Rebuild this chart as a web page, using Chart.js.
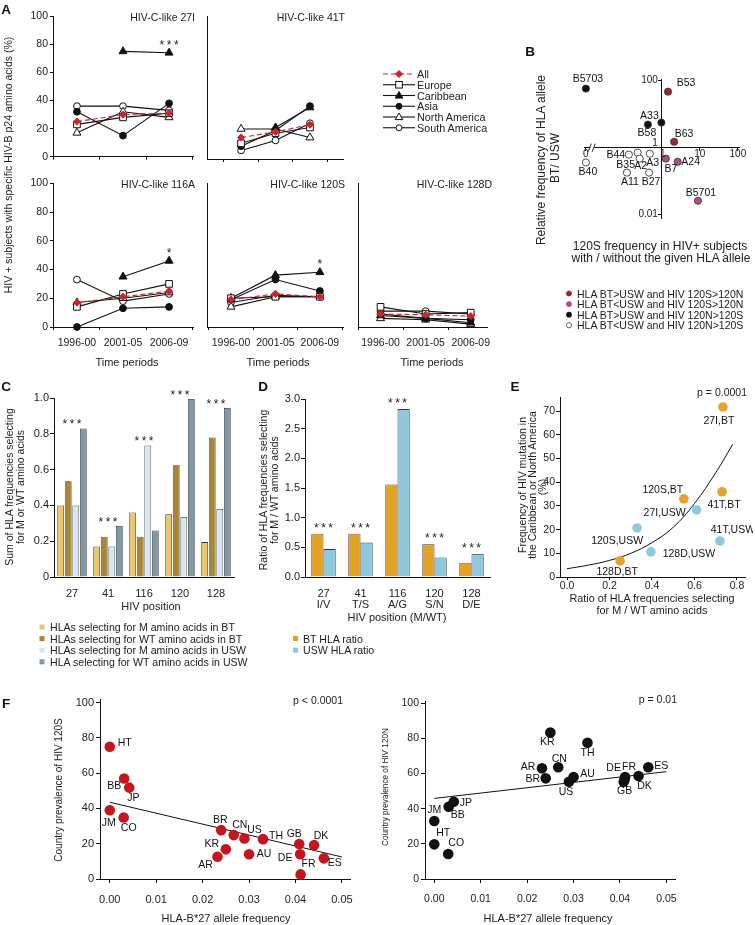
<!DOCTYPE html>
<html>
<head>
<meta charset="utf-8">
<title>HLA-B*27 and HIV p24 adaptation</title>
<script src="https://cdn.jsdelivr.net/npm/chart.js@4.4.1/dist/chart.umd.min.js"></script>
<style>
  html, body { margin: 0; padding: 0; background: #fff; }
  #fig { position: relative; width: 755px; height: 925px; overflow: hidden; }
  .box { position: absolute; z-index: 1; }
  .box canvas { display: block; }
  #labels { position: absolute; left: 0; top: 0; z-index: 2; pointer-events: none; }
</style>
</head>
<body>
<div id="fig">
  <svg id="labels" width="755" height="925" xmlns="http://www.w3.org/2000/svg"></svg>
</div>
<script>
const FONT = "'Liberation Sans', Arial, Helvetica, sans-serif";

/* ---------- A: HIV-C-like amino acids by region and period ---------- */
const timeLabels = ['1996-00', '2001-05', '2006-09'];
const regions = ['All', 'Europe', 'Caribbean', 'Asia', 'North America', 'South America'];
// one row per region, same order as `regions`
const hiv27I = [[25, 30, 31], [23, 28, 31], [null, 75, 74], [32, 15, 38], [17, 32, 28], [36, 36, 33]];
const hiv41T = [[15, 19, 24], [11, 18, 22], [null, 22, 36], [9, 20, 37], [21, 21, 15], [6, 13, 25]];
const hiv116A = [[17, 21, 25], [14, 23, 30], [null, 35, 46], [0, 13, 14], [17, 20, 24], [33, 18, 23]];
const hiv120S = [[19, 23, 21], [20, 21, 21], [20, 36, 38], [19, 33, 25], [14, 21, 21], [17, 22, 21]];
const hiv128D = [[9, 8.5, 7.5], [14, 9, 10], [8, 6, 3], [9, 6, 5], [6, 5, 2], [11, 11, 9]];
const stars27I = ['', '', '***'];
const stars116A = ['', '', '*'];
const stars120S = ['', '', '*'];

/* ---------- B: relative HLA frequency vs 120S frequency ---------- */
const bAlleles = ['B5703', 'B53', 'A33', 'B58', 'B63', 'B44', 'B35', 'A2', 'A3', 'B7', 'A24', 'B40', 'A11', 'B27', 'B5701'];
const b120SRatio = [0, 1.45, 0.97, 0.43, 2.1, 0.135, 0.23, 0.26, 0.48, 1.27, 2.6, 0, 0.12, 0.46, 8.9];
const bBtUswRatio = [58, 47, 5.6, 4.9, 1.5, 0.62, 0.71, 0.47, 0.66, 0.47, 0.38, 0.36, 0.18, 0.18, 0.026];
const bGroup = [2, 0, 2, 2, 0, 3, 3, 3, 3, 1, 1, 3, 3, 3, 1];
const bGroupNames = ['HLA BT>USW and HIV 120S>120N', 'HLA BT<USW and HIV 120S>120N',
  'HLA BT>USW and HIV 120N>120S', 'HLA BT<USW and HIV 120N>120S'];
const bXTickValues = [0, 1, 10, 100];
const bYTickValues = [100, 1, 0.01];

/* ---------- C: summed HLA frequencies ---------- */
const positions = ['27', '41', '116', '120', '128'];
const mBT = [0.40, 0.17, 0.36, 0.35, 0.195];
const wtBT = [0.535, 0.225, 0.225, 0.625, 0.78];
const mUSW = [0.40, 0.17, 0.735, 0.335, 0.38];
const wtUSW = [0.83, 0.285, 0.26, 0.995, 0.945];
const cStars = ['***', '***', '***', '***', '***'];
const cLegend = ['HLAs selecting for M amino acids in BT', 'HLAs selecting for WT amino acids in BT',
  'HLAs selecting for M amino acids in USW', 'HLA selecting for WT amino acids in USW'];

/* ---------- D: M / WT ratios ---------- */
const dLabels = [['27', 'I/V'], ['41', 'T/S'], ['116', 'A/G'], ['120', 'S/N'], ['128', 'D/E']];
const btRatio = [0.73, 0.73, 1.56, 0.55, 0.24];
const uswRatio = [0.47, 0.58, 2.83, 0.33, 0.39];
const dStars = ['***', '***', '***', '***', '***'];
const dLegend = ['BT HLA ratio', 'USW HLA ratio'];

/* ---------- E: mutation frequency vs ratio ---------- */
const eSites = ['27I', '41T', '120S', '128D'];
const eBtRatio = [0.734, 0.73, 0.55, 0.25];
const eBtFreq = [71.8, 36, 33, 6.8];
const eUswRatio = [0.61, 0.72, 0.33, 0.395];
const eUswFreq = [28.3, 15.2, 20.7, 10.6];
const eFitX = [0, 0.1, 0.2, 0.3, 0.4, 0.5, 0.6, 0.7, 0.78];
const eFitY = [3.5, 5, 7, 10, 14.5, 21, 31, 44, 56];

/* ---------- F: country prevalence vs HLA-B*27 ---------- */
const countries = ['HT', 'BB', 'JP', 'JM', 'CO', 'BR', 'CN', 'US', 'TH', 'GB', 'DK', 'KR', 'AR', 'AU', 'DE', 'ES', 'FR'];
const b27Freq = [0, 0.0031, 0.0042, 0, 0.003, 0.024, 0.0267, 0.029, 0.033, 0.0408, 0.044, 0.025, 0.0232, 0.030, 0.041, 0.0461, 0.0411];
const prev120S = [75, 57, 51.8, 39, 34.9, 27.7, 24.9, 23, 22.6, 19.8, 19.2, 16.8, 12.6, 14, 14, 11.7, 2.6];
const prev120N = [19.7, 41.1, 43.9, 33, 14.2, 57.2, 63.5, 55.3, 77.4, 55.3, 58.5, 83.3, 62.9, 58, 56.5, 63.5, 58];
const fitFX = [0, 0.05];
const fit120S = [43.5, 12.5];
const fit120N = [45.8, 61];

/* ---------- styles ---------- */
const regionStyle = {
  'All': { color: '#c8262c', dash: [5, 3], point: 'rectRot', fill: '#c8262c', r: 3.6 },
  'Europe': { color: '#111', point: 'rect', fill: '#fff', r: 4.7 },
  'Caribbean': { color: '#111', point: 'triangle', fill: '#111', r: 4.6 },
  'Asia': { color: '#111', point: 'circle', fill: '#111', r: 3.4 },
  'North America': { color: '#111', point: 'triangle', fill: '#fff', r: 4.6 },
  'South America': { color: '#111', point: 'circle', fill: '#fff', r: 3.4 },
};
const bColors = ['#9c2a2a', '#b24d86', '#111', '#fff'];
const cColors = ['#ecc66f', '#a88537', '#d6e7f1', '#7f99a6'];
const dColors = ['#e3a224', '#8fc7de'];
const eColors = ['#e6a332', '#90c8df'];

const bLabelPos = {
  B5703: [2, -9], B53: [18, -9], A33: [-12, -6], B58: [-1, 9], B63: [10, -8],
  B44: [-13, 0], B35: [-12, 12], A2: [1, 7], A3: [3, 9], B7: [5, 10], A24: [13, 0],
  B40: [2, 10], A11: [3, 10], B27: [2, 10], B5701: [3, -8],
};
const eLabelPos = {
  '27I,BT': [-4, 14], '41T,BT': [2, 13], '120S,BT': [-21, -9], '128D,BT': [-3, 11],
  '27I,USW': [-32, 3], '41T,USW': [13, -11], '120S,USW': [-20, 13], '128D,USW': [38, 2],
};
const f120SLabelPos = {
  HT: [15, -4], BB: [-10, 8], JP: [4, 10], JM: [-1, 13], CO: [5, 11], BR: [-1, -10], CN: [6, -10],
  US: [10, -8], TH: [13, -3], GB: [-5, -10], DK: [7, -9], KR: [-14, -5], AR: [-12, 8], AU: [15, 0],
  DE: [-15, 4], ES: [11, 5], FR: [8, -10],
};
const f120NLabelPos = {
  KR: [-3, 10], TH: [0, 10], AR: [-14, -1], CN: [1, -8], ES: [13, -1], BR: [-13, 1], AU: [14, -3],
  US: [-3, 10], DE: [-11, -11], FR: [4, -10], GB: [1, 9], DK: [6, 10], JP: [12, 1], BB: [9, 8],
  JM: [0, -11], HT: [9, -11], CO: [8, -11],
};

/* ---------- helpers ---------- */
const fig = document.getElementById('fig');
const svg = document.getElementById('labels');
const NS = 'http://www.w3.org/2000/svg';

function el(tag, attrs) {
  const e = document.createElementNS(NS, tag);
  for (const k in attrs) e.setAttribute(k, attrs[k]);
  svg.appendChild(e);
  return e;
}

function txt(x, y, s, o = {}) {
  const t = el('text', {
    x, y, 'font-size': o.size || 11, 'font-family': FONT, fill: o.color || '#222',
    'text-anchor': o.anchor || 'middle', 'dominant-baseline': 'central',
  });
  if (o.bold) t.setAttribute('font-weight', 'bold');
  if (o.rot) t.setAttribute('transform', 'rotate(' + o.rot + ' ' + x + ' ' + y + ')');
  t.textContent = s;
}

function makeCanvas(area, m) {
  const w = area[2] - area[0] + m.l + m.r;
  const h = area[3] - area[1] + m.t + m.b;
  const div = document.createElement('div');
  div.className = 'box';
  div.style.left = (area[0] - m.l) + 'px';
  div.style.top = (area[1] - m.t) + 'px';
  div.style.width = w + 'px';
  div.style.height = h + 'px';
  const c = document.createElement('canvas');
  c.width = w;
  c.height = h;
  c.style.width = w + 'px';
  c.style.height = h + 'px';
  div.appendChild(c);
  fig.insertBefore(div, svg);
  return c;
}

function base(m, full) {
  return {
    responsive: false,
    animation: false,
    layout: { padding: full ? { left: m.l, top: m.t, right: m.r, bottom: m.b } : { left: 0, top: m.t, right: m.r, bottom: 0 } },
    plugins: { legend: { display: false }, tooltip: { enabled: false } },
  };
}

// Igor-like axis: outside ticks, no grid
function axis(o) {
  const a = {
    type: o.type || 'linear',
    border: { display: true, color: '#111', width: 1 },
    grid: {
      display: o.grid !== false, drawOnChartArea: false, drawTicks: (o.tl || 0) > 0,
      tickLength: o.tl || 0, color: '#111', offset: !!o.offset,
    },
    ticks: {
      display: o.labels !== false, padding: o.pad || 0, color: '#222', autoSkip: false,
      maxRotation: 0, minRotation: 0, includeBounds: false,
      font: { size: o.size || 11, lineHeight: o.lh || 1.2 },
    },
  };
  if (o.type === 'category') a.offset = true;
  if (o.min !== undefined) a.min = o.min;
  if (o.max !== undefined) a.max = o.max;
  if (o.step !== undefined) a.ticks.stepSize = o.step;
  if (o.cb) a.ticks.callback = o.cb;
  if (o.fit) a.afterFit = o.fit;
  if (o.position) a.position = o.position;
  if (o.tickValues) a.afterBuildTicks = (s) => { s.ticks = o.tickValues.map(v => ({ value: v })); };
  return a;
}

function drawStars(ctx, x, yTop, text, gap) {
  const n = text.length, sp = 7.2;
  ctx.save();
  ctx.font = '12px ' + FONT;
  ctx.fillStyle = '#222';
  ctx.textAlign = 'center';
  ctx.textBaseline = 'alphabetic';
  for (let k = 0; k < n; k++) ctx.fillText('*', x + (k - (n - 1) / 2) * sp, yTop - gap);
  ctx.restore();
}

function starPlugin(id, stars, gap) {
  return {
    id,
    afterDatasetsDraw(chart) {
      const xs = chart.scales.x;
      stars.forEach((s, i) => {
        if (!s) return;
        let top = Infinity;
        chart.data.datasets.forEach((d, di) => {
          const e = chart.getDatasetMeta(di).data[i];
          if (e && !e.skip && isFinite(e.y)) top = Math.min(top, e.y);
        });
        drawStars(chart.ctx, xs.getPixelForValue(i), top, s, gap);
      });
    },
  };
}

function pointLabels(id, dsIndex, names, pos, size) {
  return {
    id,
    afterDatasetsDraw(chart) {
      const ctx = chart.ctx;
      const meta = chart.getDatasetMeta(dsIndex);
      ctx.save();
      ctx.font = size + 'px ' + FONT;
      ctx.fillStyle = '#111';
      ctx.textAlign = 'center';
      ctx.textBaseline = 'middle';
      meta.data.forEach((e, i) => {
        const o = pos[names[i]] || [0, -10];
        ctx.fillText(names[i], e.x + o[0], e.y + o[1]);
      });
      ctx.restore();
    },
  };
}

/* ---------- Panel A ---------- */
const aPanels = [
  { data: hiv27I, title: 'HIV-C-like 27I', area: [53, 16, 193, 159], xr: [-0.52, 2.52], yLab: true, xLab: false, stars: stars27I },
  { data: hiv41T, title: 'HIV-C-like 41T', area: [207, 16, 343, 159], xr: [-0.99, 2.96], yLab: false, xLab: false },
  { data: hiv116A, title: 'HIV-C-like 116A', area: [53, 183, 193, 327], xr: [-0.52, 2.52], yLab: true, xLab: true, stars: stars116A },
  { data: hiv120S, title: 'HIV-C-like 120S', area: [207, 183, 343, 327], xr: [-0.54, 2.52], yLab: false, xLab: true, stars: stars120S },
  { data: hiv128D, title: 'HIV-C-like 128D', area: [358, 183, 490, 327], xr: [-0.5, 2.37], yLab: false, xLab: true },
];

aPanels.forEach((p, n) => {
  const m = { l: 30, t: 8, r: 8, b: p.xLab ? 26 : 6 };
  const canvas = makeCanvas(p.area, m);
  const datasets = regions.map((name, k) => {
    const st = regionStyle[name];
    return {
      label: name,
      data: p.data[k].map((v, i) => ({ x: i, y: v })),
      borderColor: st.color,
      borderWidth: 1.1,
      borderDash: st.dash || [],
      pointStyle: st.point,
      pointRadius: st.r,
      pointBackgroundColor: st.fill,
      pointBorderColor: st.color,
      pointBorderWidth: 1,
      spanGaps: false,
      clip: false,
    };
  });
  new Chart(canvas, {
    type: 'line',
    data: { datasets },
    options: Object.assign(base(m), {
      scales: {
        x: axis({ min: p.xr[0], max: p.xr[1], tickValues: [0, 1, 2], offset: true, tl: 3, labels: p.xLab,
          pad: 7, size: 10.5, cb: v => timeLabels[v], fit: s => { s.height = m.b; } }),
        y: axis({ min: 0, max: 100, step: 20, tl: p.yLab ? 3 : 0, labels: p.yLab, grid: p.yLab,
          pad: 2, size: 10.5, fit: s => { s.width = m.l; } }),
      },
    }),
    plugins: p.stars ? [starPlugin('starsA' + n, p.stars, 4)] : [],
  });
  txt(p.area[2] + 2, p.area[1] + 0.5, p.title, { anchor: 'end', size: 10.5 });
});

txt(8, 165, 'HIV + subjects with specific HIV-B p24 amino acids (%)', { rot: -90, size: 10.5 });
txt(127, 362, 'Time periods');
txt(278, 362, 'Time periods');
txt(432, 362, 'Time periods');

// legend A
regions.forEach((name, i) => {
  const y = 74 + i * 10.75;
  const st = regionStyle[name];
  const ln = el('line', { x1: 383, y1: y, x2: 415, y2: y, stroke: st.color, 'stroke-width': 1.1 });
  if (st.dash) ln.setAttribute('stroke-dasharray', st.dash.join(' '));
  const cx = 399;
  const attrs = { fill: st.fill, stroke: st.color, 'stroke-width': 1 };
  if (st.point === 'circle') {
    el('circle', Object.assign({ cx, cy: y, r: st.r - 0.4 }, attrs));
  } else if (st.point === 'rect') {
    el('rect', Object.assign({ x: cx - 3.3, y: y - 3.3, width: 6.6, height: 6.6 }, attrs));
  } else if (st.point === 'rectRot') {
    el('polygon', Object.assign({ points: [cx, y - 3.6, cx + 3.6, y, cx, y + 3.6, cx - 3.6, y].join(' ') }, attrs));
  } else {
    el('polygon', Object.assign({ points: [cx, y - 4, cx + 3.8, y + 2.6, cx - 3.8, y + 2.6].join(' ') }, attrs));
  }
  txt(417, y, name, { anchor: 'start', size: 10.8 });
});

/* ---------- Panel B ---------- */
const lg = v => (v === 0 ? -2 : Math.log10(v));
(function () {
  const area = [584, 79, 739, 218];
  const m = { l: 24, t: 12, r: 16, b: 6 };
  const canvas = makeCanvas(area, m);
  new Chart(canvas, {
    type: 'scatter',
    data: {
      datasets: [{
        data: bAlleles.map((a, i) => ({ x: lg(b120SRatio[i]), y: lg(bBtUswRatio[i]) })),
        pointRadius: 3.6,
        pointBackgroundColor: bGroup.map(g => bColors[g]),
        pointBorderColor: bGroup.map(g => (g === 3 ? '#222' : '#333')),
        pointBorderWidth: 0.8,
        clip: false,
      }],
    },
    options: Object.assign(base(m, true), {
      scales: {
        x: axis({ min: -2.05, max: 2.03, position: { y: 0 }, tickValues: bXTickValues.map(lg), tl: 3, labels: false }),
        y: axis({ min: -2.1, max: 2.05, position: { x: 0 }, tickValues: bYTickValues.map(lg), tl: 3, labels: false }),
      },
    }),
    plugins: [
      pointLabels('bLabels', 0, bAlleles, bLabelPos, 10.5),
      {
        id: 'bAxes',
        afterDraw(chart) {
          const xs = chart.scales.x, ys = chart.scales.y, ctx = chart.ctx;
          const x0 = xs.getPixelForValue(0), y0 = ys.getPixelForValue(0);
          ctx.save();
          ctx.font = '10px ' + FONT;
          ctx.fillStyle = '#222';
          ctx.textAlign = 'center';
          ctx.textBaseline = 'middle';
          bXTickValues.forEach(v => ctx.fillText(String(v), xs.getPixelForValue(lg(v)) + (v === 1 ? 1 : 0), y0 + 7));
          ctx.textAlign = 'right';
          bYTickValues.forEach(v => {
            const py = ys.getPixelForValue(lg(v));
            ctx.fillText(String(v), x0 - 4, v === 1 ? py - 4 : py);
          });
          // axis break
          const bx = xs.getPixelForValue(-1.86);
          ctx.fillStyle = '#fff';
          ctx.fillRect(bx - 1, y0 - 1.5, 4, 3);
          ctx.strokeStyle = '#111';
          ctx.lineWidth = 0.9;
          ctx.beginPath();
          ctx.moveTo(bx - 3, y0 + 4); ctx.lineTo(bx, y0 - 4);
          ctx.moveTo(bx + 1, y0 + 4); ctx.lineTo(bx + 4, y0 - 4);
          ctx.stroke();
          ctx.restore();
        },
      },
    ],
  });
})();

txt(541, 160, 'Relative frequency of HLA allele', { rot: -90, size: 12 });
txt(555, 158, 'BT/ USW', { rot: -90, size: 12 });
txt(660, 246, '120S frequency in HIV+ subjects', { size: 12 });
txt(661, 258, 'with / without the given HLA allele', { size: 12 });
bGroupNames.forEach((s, i) => {
  const y = 293.5 + i * 10.6;
  el('circle', { cx: 569, cy: y, r: 2.6, fill: bColors[i], stroke: i === 3 ? '#222' : bColors[i], 'stroke-width': 0.7 });
  txt(577, y, s, { anchor: 'start', size: 10.5 });
});

/* ---------- Panel C ---------- */
(function () {
  const area = [54, 398, 234, 577];
  const m = { l: 36, t: 12, r: 8, b: 26 };
  const canvas = makeCanvas(area, m);
  new Chart(canvas, {
    type: 'bar',
    data: {
      labels: positions,
      datasets: [mBT, wtBT, mUSW, wtUSW].map((d, k) => ({
        data: d, backgroundColor: cColors[k], borderColor: '#333', borderWidth: 0.8,
        categoryPercentage: 0.84, barPercentage: 0.9,
      })),
    },
    options: Object.assign(base(m), {
      scales: {
        x: axis({ type: 'category', tl: 0, pad: 10, size: 11, fit: s => { s.height = m.b; } }),
        y: axis({ min: 0, max: 1, step: 0.2, tl: 4, pad: 1, size: 11,
          cb: v => (v === 0 ? '0' : v.toFixed(1)), fit: s => { s.width = m.l; } }),
      },
    }),
    plugins: [starPlugin('starsC', cStars, 0)],
  });
})();

txt(9, 487, 'Sum of HLA frequencies selecting', { rot: -90, size: 10.5 });
txt(20, 487, 'for M  or WT amino acids', { rot: -90, size: 10.5 });
txt(151, 606, 'HIV position');
cLegend.forEach((s, i) => {
  const y = 627 + i * 11.6;
  el('rect', { x: 39.5, y: y - 2.5, width: 5, height: 5, fill: cColors[i] });
  txt(50, y, s, { anchor: 'start', size: 10.6 });
});

/* ---------- Panel D ---------- */
(function () {
  const area = [305, 399, 490, 577];
  const m = { l: 30, t: 14, r: 8, b: 36 };
  const canvas = makeCanvas(area, m);
  new Chart(canvas, {
    type: 'bar',
    data: {
      labels: dLabels,
      datasets: [btRatio, uswRatio].map((d, k) => ({
        data: d, backgroundColor: dColors[k], borderColor: '#333', borderWidth: 0.8,
        categoryPercentage: 0.66, barPercentage: 1.0,
      })),
    },
    options: Object.assign(base(m), {
      scales: {
        x: axis({ type: 'category', tl: 0, pad: 11, size: 11, lh: 1.02, fit: s => { s.height = m.b; } }),
        y: axis({ min: 0, max: 3, step: 0.5, tl: 4, pad: 1, size: 11,
          cb: v => v.toFixed(1), fit: s => { s.width = m.l; } }),
      },
    }),
    plugins: [starPlugin('starsD', dStars, 2)],
  });
})();

txt(263, 490, 'Ratio of HLA frequencies selecting', { rot: -90, size: 10.5 });
txt(274, 490, 'for M / WT amino acids', { rot: -90, size: 10.5 });
txt(397, 617, 'HIV position (M/WT)');
dLegend.forEach((s, i) => {
  const y = 638.5 + i * 11.6;
  el('rect', { x: 293, y: y - 2.5, width: 5, height: 5, fill: dColors[i] });
  txt(303, y, s, { anchor: 'start', size: 10.6 });
});

/* ---------- Panel E ---------- */
(function () {
  const area = [560, 397, 745, 577];
  const m = { l: 22, t: 8, r: 8, b: 22 };
  const canvas = makeCanvas(area, m);
  new Chart(canvas, {
    type: 'scatter',
    data: {
      datasets: [
        { data: eSites.map((s, i) => ({ x: eBtRatio[i], y: eBtFreq[i] })), pointRadius: 4.8,
          pointBackgroundColor: eColors[0], pointBorderWidth: 0, clip: false },
        { data: eSites.map((s, i) => ({ x: eUswRatio[i], y: eUswFreq[i] })), pointRadius: 4.8,
          pointBackgroundColor: eColors[1], pointBorderWidth: 0, clip: false },
        { type: 'line', data: eFitX.map((x, i) => ({ x, y: eFitY[i] })), borderColor: '#111',
          borderWidth: 1, pointRadius: 0, tension: 0.4, fill: false },
      ],
    },
    options: Object.assign(base(m), {
      scales: {
        x: axis({ min: -0.033, max: 0.838, step: 0.2, tl: 3, pad: 0, size: 10.5,
          cb: v => v.toFixed(1), fit: s => { s.height = m.b; } }),
        y: axis({ min: 0, max: 76, step: 10, tl: 4, pad: 1, size: 10.5, fit: s => { s.width = m.l; } }),
      },
    }),
    plugins: [
      pointLabels('eBT', 0, eSites.map(s => s + ',BT'), eLabelPos, 10.5),
      pointLabels('eUSW', 1, eSites.map(s => s + ',USW'), eLabelPos, 10.5),
    ],
  });
})();

txt(522, 485, 'Frequency of HIV mutation in', { rot: -90, size: 10.5 });
txt(532, 485, 'the Caribbean or North America', { rot: -90, size: 10.5 });
txt(542, 487, '(%)', { rot: -90, size: 10.5 });
txt(652, 598, 'Ratio of HLA frequencies selecting', { size: 10.8 });
txt(652, 610, 'for M / WT amino acids', { size: 10.8 });
txt(747, 392, 'p = 0.0001', { anchor: 'end', size: 10.5 });

/* ---------- Panel F ---------- */
function drawF(area, xr, ymax, prev, fit, color, labelPos, id, tickSize) {
  const m = { l: 30, t: 8, r: 10, b: 24 };
  const canvas = makeCanvas(area, m);
  new Chart(canvas, {
    type: 'scatter',
    data: {
      datasets: [
        { data: countries.map((c, i) => ({ x: b27Freq[i], y: prev[i] })), pointRadius: 5.3,
          pointBackgroundColor: color, pointBorderWidth: 0, clip: false },
        { type: 'line', data: fitFX.map((x, i) => ({ x, y: fit[i] })), borderColor: '#111',
          borderWidth: 1, pointRadius: 0, fill: false },
      ],
    },
    options: Object.assign(base(m), {
      scales: {
        x: axis({ min: xr[0], max: xr[1], step: 0.01, tl: 4, pad: 10, size: tickSize,
          cb: v => v.toFixed(2), fit: s => { s.height = m.b; } }),
        y: axis({ min: 0, max: ymax, step: 20, tl: 4, pad: 2, size: tickSize, fit: s => { s.width = m.l; } }),
      },
    }),
    plugins: [pointLabels(id, 0, countries, labelPos, 10.5)],
  });
}

drawF([100, 699, 353, 879], [-0.0021, 0.0519], 101.7, prev120S, fit120S, '#c4161c', f120SLabelPos, 'f120S', 11);
drawF([425, 701, 677, 879], [-0.002, 0.052], 101, prev120N, fit120N, '#111', f120NLabelPos, 'f120N', 10.5);

txt(58, 790, 'Country prevalence of HIV 120S', { rot: -90, size: 10 });
txt(385, 787, 'Country prevalence of HIV 120N', { rot: -90, size: 8.2 });
txt(226, 918, 'HLA-B*27 allele frequency', { size: 11 });
txt(548, 918, 'HLA-B*27 allele frequency', { size: 11 });
txt(343, 700, 'p < 0.0001', { anchor: 'end', size: 10.5 });
txt(677, 699, 'p = 0.01', { anchor: 'end', size: 10.5 });

/* ---------- panel letters ---------- */
[['A', 6, 9], ['B', 530, 51], ['C', 6, 386], ['D', 263, 386], ['E', 515, 386], ['F', 6, 703]]
  .forEach(([s, x, y]) => txt(x, y, s, { bold: true, size: 13.5, color: '#111' }));
</script>
</body>
</html>
